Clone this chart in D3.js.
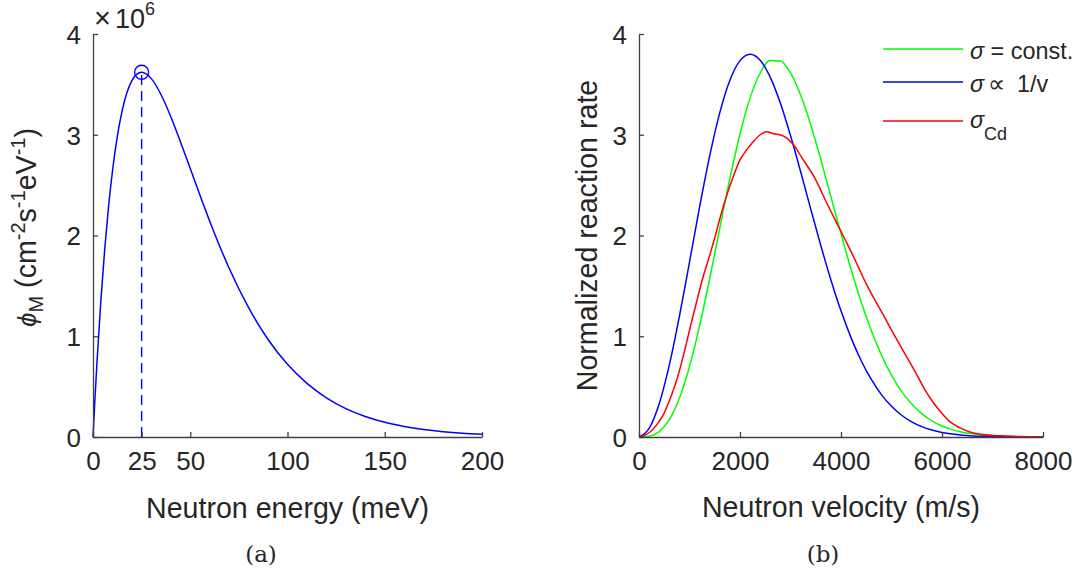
<!DOCTYPE html>
<html>
<head>
<meta charset="utf-8">
<script src="https://cdn.jsdelivr.net/npm/d3@7/dist/d3.min.js"></script>
<style>
  html, body { margin: 0; padding: 0; background: #ffffff; }
  svg { display: block; }
  text { font-family: "Liberation Sans", Arial, Helvetica, sans-serif; fill: #262626; }
</style>
</head>
<body>
<svg id="chart" width="1082" height="575"></svg>
<script>
// ---------- Panel (a): Maxwellian flux vs neutron energy ----------
const energy = [0,1,2,4,6,8,10,12.5,15,17.5,20,22.5,25,30,35,40,45,50,60,70,80,90,100,110,120,130,140,150,160,170,180,190,200];
const flux = [0,0.378,0.727,1.342,1.858,2.286,2.638,2.984,3.240,3.421,3.537,3.601,3.620,3.557,3.397,3.179,2.928,2.664,2.142,1.675,1.284,0.968,0.721,0.532,0.389,0.282,0.204,0.146,0.105,0.075,0.053,0.037,0.026];
const peakEnergy = 25;
const peakFlux = 3.62;
const energyTicks = [0, 25, 50, 100, 150, 200];
const fluxTicks = [0, 1, 2, 3, 4];

// ---------- Panel (b): normalized reaction rate vs velocity ----------
const velocity = [0,200,400,600,800,1000,1200,1400,1600,1800,2000,2200,2400,2600,2800,3000,3200,3400,3600,3800,4000,4200,4400,4600,4800,5000,5200,5400,5600,5800,6000,6200,6400,6600,6800,7000,7200,7400,7600,7800,8000];
const rateConst = [0,0.007,0.053,0.172,0.385,0.699,1.103,1.573,2.074,2.566,3.008,3.366,3.613,3.736,3.733,3.613,3.394,3.100,2.755,2.386,2.016,1.663,1.341,1.057,0.814,0.614,0.453,0.327,0.232,0.161,0.109,0.073,0.048,0.031,0.019,0.012,0.007,0.004,0.003,0.001,0.001];
const rateInvV = [0,0.085,0.330,0.713,1.197,1.736,2.283,2.790,3.220,3.541,3.736,3.800,3.740,3.569,3.312,2.992,2.635,2.264,1.901,1.559,1.252,0.984,0.757,0.571,0.421,0.305,0.216,0.151,0.103,0.069,0.045,0.029,0.018,0.011,0.007,0.004,0.003,0.001,0.001,0,0];
const velocityCd = [0,220,350,480,610,750,880,1010,1140,1270,1410,1490,1670,1870,2000,2130,2260,2400,2530,2660,2790,2920,3060,3190,3320,3450,3580,3720,3850,3980,4080,4180,4340,4510,4670,4840,5000,5170,5330,5500,5660,5830,5990,6160,6360,6550,6820,7150,7480,8000];
const rateCd = [0,0.05,0.12,0.22,0.37,0.57,0.81,1.08,1.34,1.59,1.82,1.96,2.29,2.59,2.75,2.85,2.93,3.00,3.03,3.01,3.00,2.97,2.90,2.80,2.70,2.60,2.47,2.32,2.19,2.06,1.96,1.86,1.69,1.51,1.36,1.21,1.06,0.91,0.77,0.62,0.47,0.34,0.24,0.15,0.09,0.05,0.025,0.012,0.006,0];
const velocityTicks = [0, 2000, 4000, 6000, 8000];
const rateTicks = [0, 1, 2, 3, 4];

const svg = d3.select("#chart");
const axisColor = "#404040";
const tickFont = 26;
const labelFont = 28.6;

function drawAxes(g, x, y, xt, yt) {
  const [x0, x1] = x.range();
  const [y0, y1] = y.range();
  const xa = g.append("g").attr("transform", `translate(0,${y0})`)
    .call(d3.axisBottom(x).tickValues(xt).tickSizeInner(-5).tickSizeOuter(0).tickPadding(14).tickFormat(d3.format("d")));
  const ya = g.append("g").attr("transform", `translate(${x0},0)`)
    .call(d3.axisLeft(y).tickValues(yt).tickSizeInner(-5).tickSizeOuter(0).tickPadding(12).tickFormat(d3.format("d")));
  [xa, ya].forEach(a => {
    a.select(".domain").attr("stroke", axisColor).attr("stroke-width", 1.3);
    a.selectAll(".tick line").attr("stroke", axisColor).attr("stroke-width", 1.3);
    a.selectAll(".tick text").attr("fill", "#262626").style("font-size", tickFont + "px")
      .style("font-family", '"Liberation Sans", Arial, sans-serif');
  });
  ya.selectAll(".tick text").attr("dy", "0.36em");
  xa.selectAll(".tick text").attr("dy", "0.72em");
}

// ----- Panel (a)
const xA = d3.scaleLinear().domain([0, 200]).range([93, 482]);
const yA = d3.scaleLinear().domain([0, 4]).range([437, 34]);
const gA = svg.append("g");

gA.append("line")
  .attr("x1", xA(peakEnergy)).attr("x2", xA(peakEnergy))
  .attr("y1", yA(0)).attr("y2", yA(peakFlux))
  .attr("stroke", "#0000ff").attr("stroke-width", 1.4).attr("stroke-dasharray", "10,6");

gA.append("path")
  .datum(energy.map((e, i) => [e, flux[i]]))
  .attr("fill", "none").attr("stroke", "#0000ff").attr("stroke-width", 1.5)
  .attr("d", d3.line().x(d => xA(d[0])).y(d => yA(d[1])).curve(d3.curveMonotoneX));

gA.append("circle")
  .attr("cx", xA(peakEnergy)).attr("cy", yA(peakFlux)).attr("r", 7)
  .attr("fill", "none").attr("stroke", "#0000ff").attr("stroke-width", 1.4);

drawAxes(gA, xA, yA, energyTicks, fluxTicks);

// exponent label
const expT = gA.append("text").attr("x", 94).attr("y", 28).style("font-size", "27px");
expT.append("tspan").style("font-size", "29px").text("\u00d7");
expT.append("tspan").attr("dx", 4).text("10");
expT.append("tspan").attr("dy", -13).style("font-size", "18px").text("6");

// x label
gA.append("text").attr("x", (xA.range()[0] + xA.range()[1]) / 2).attr("y", 518)
  .attr("text-anchor", "middle").style("font-size", labelFont + "px").text("Neutron energy (meV)");

// y label
const yl = gA.append("text")
  .attr("transform", `translate(36,${(yA.range()[0] + yA.range()[1]) / 2 - 8}) rotate(-90)`)
  .attr("text-anchor", "middle").style("font-size", labelFont + "px");
yl.append("tspan").style("font-style", "italic").style("font-size", "26px").text("\u03d5");
yl.append("tspan").attr("dy", 7).style("font-size", "20px").text("M");
yl.append("tspan").attr("dy", -7).text(" (cm");
yl.append("tspan").attr("dy", -11).style("font-size", "20px").text("-2");
yl.append("tspan").attr("dy", 11).text("s");
yl.append("tspan").attr("dy", -11).style("font-size", "20px").text("-1");
yl.append("tspan").attr("dy", 11).text("eV");
yl.append("tspan").attr("dy", -11).style("font-size", "20px").text("-1");
yl.append("tspan").attr("dy", 11).text(")");

// caption
gA.append("text").attr("x", 261).attr("y", 562).attr("text-anchor", "middle")
  .style("font-family", '"DejaVu Serif", "Liberation Serif", serif').style("font-size", "23px").text("(a)");

// ----- Panel (b)
const xB = d3.scaleLinear().domain([0, 8000]).range([639, 1043]);
const yB = d3.scaleLinear().domain([0, 4]).range([437, 34]);
const gB = svg.append("g");

const series = [
  { name: "const", xs: velocity, ys: rateConst, color: "#00ff00" },
  { name: "invv", xs: velocity, ys: rateInvV, color: "#0000ff" },
  { name: "cd", xs: velocityCd, ys: rateCd, color: "#ff0000" }
];
const lineB = d3.line().x(d => xB(d[0])).y(d => yB(d[1])).curve(d3.curveMonotoneX);
series.forEach(s => {
  gB.append("path")
    .datum(s.xs.map((v, i) => [v, s.ys[i]]))
    .attr("fill", "none").attr("stroke", s.color).attr("stroke-width", 1.5)
    .attr("d", lineB);
});

drawAxes(gB, xB, yB, velocityTicks, rateTicks);

gB.append("text").attr("x", (xB.range()[0] + xB.range()[1]) / 2).attr("y", 517)
  .attr("text-anchor", "middle").style("font-size", labelFont + "px").text("Neutron velocity (m/s)");

gB.append("text")
  .attr("transform", `translate(597,${(yB.range()[0] + yB.range()[1]) / 2}) rotate(-90)`)
  .attr("text-anchor", "middle").style("font-size", labelFont + "px").text("Normalized reaction rate");

// legend
const legendY = [49, 82, 121];
const legendFont = 23.4;
series.forEach((s, i) => {
  gB.append("line").attr("x1", 883).attr("x2", 963).attr("y1", legendY[i]).attr("y2", legendY[i])
    .attr("stroke", s.color).attr("stroke-width", 1.5);
});
const l1 = gB.append("text").attr("x", 970).attr("y", legendY[0] + 10).style("font-size", legendFont + "px");
l1.append("tspan").style("font-style", "italic").text("\u03c3");
l1.append("tspan").text(" = const.");
const l2 = gB.append("text").attr("x", 970).attr("y", legendY[1] + 10).style("font-size", legendFont + "px");
l2.append("tspan").style("font-style", "italic").text("\u03c3");
l2.append("tspan").attr("x", 988).style("font-family", '"DejaVu Sans", sans-serif').style("font-size", "24px").text("\u221d");
l2.append("tspan").attr("x", 1017).text("1/v");
const l3 = gB.append("text").attr("x", 970).attr("y", legendY[2] + 7).style("font-size", legendFont + "px");
l3.append("tspan").style("font-style", "italic").text("\u03c3");
l3.append("tspan").attr("dy", 12).style("font-size", "18px").text("Cd");

gB.append("text").attr("x", 823).attr("y", 562).attr("text-anchor", "middle")
  .style("font-family", '"DejaVu Serif", "Liberation Serif", serif').style("font-size", "23px").text("(b)");
</script>
</body>
</html>
